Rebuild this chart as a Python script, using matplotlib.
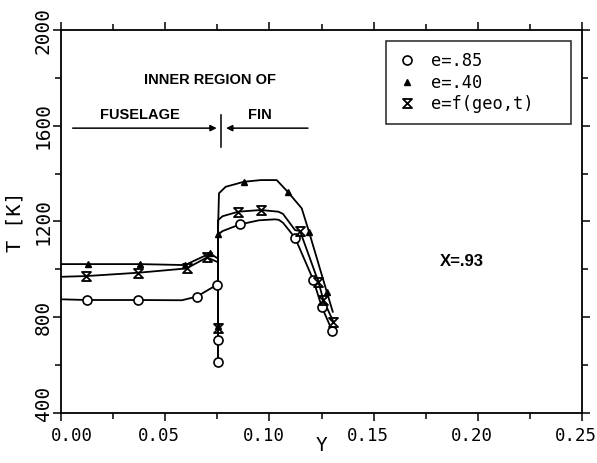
import numpy as np
import matplotlib.pyplot as plt
import matplotlib.transforms as mtransforms
from matplotlib.path import Path

# wall temperature along Y, three emissivity cases
y_85 = [0.0, 0.0123, 0.0371, 0.058, 0.0651, 0.0747, 0.0753, 0.0753, 0.0753, 0.0753,
        0.0775, 0.0859, 0.095, 0.1027, 0.1045, 0.1065, 0.1123, 0.1211, 0.1251, 0.1302]
t_85 = [875, 872, 872, 871, 886, 935, 930, 705, 613, 1145,
        1160, 1188, 1205, 1209, 1207, 1195, 1132, 955, 844, 742]
mk_85 = [1, 2, 4, 5, 7, 8, 11, 16, 17, 18, 19]

y_40 = [0.0, 0.0131, 0.0379, 0.0595, 0.0715, 0.0753, 0.0753, 0.0753, 0.0758, 0.079,
        0.0878, 0.0958, 0.1035, 0.109, 0.1155, 0.119, 0.1275, 0.1304]
t_40 = [1022, 1022, 1022, 1018, 1067, 1045, 765, 1148, 1318, 1345,
        1366, 1373, 1373, 1322, 1255, 1157, 907, 823]
mk_40 = [1, 2, 3, 4, 6, 7, 10, 13, 15, 16]

y_f = [0.0, 0.012, 0.0371, 0.0603, 0.07, 0.0753, 0.0753, 0.0753, 0.0775, 0.0851,
       0.0958, 0.1043, 0.1065, 0.1123, 0.1147, 0.1235, 0.1259, 0.1307]
t_f = [969, 972, 986, 1004, 1050, 1030, 754, 1205, 1222, 1241,
       1248, 1241, 1232, 1164, 1160, 948, 872, 781]
mk_f = [1, 2, 3, 4, 6, 9, 10, 14, 15, 16, 17]

xticks = [0.00, 0.05, 0.10, 0.15, 0.20, 0.25]
yticks = [400, 800, 1200, 1600, 2000]

# region annotation
y_wall = 0.0766
t_arrow = 1590

mono = 'DejaVu Sans Mono'
sans = 'Liberation Sans'

# hourglass marker (x with bars)
hg = Path([(-1, 1), (1, 1), (-1, -1), (1, -1), (-1, 1)],
          [Path.MOVETO, Path.LINETO, Path.LINETO, Path.LINETO, Path.CLOSEPOLY])

fig = plt.figure(figsize=(5.97, 4.63), dpi=100)
ax = fig.add_axes([0.1022, 0.108, 0.8727, 0.8272])

for yy, tt in [(y_85, t_85), (y_40, t_40), (y_f, t_f)]:
    ax.plot(yy, tt, color='k', lw=1.3, zorder=2)

y_85 = np.array(y_85); t_85 = np.array(t_85)
y_40 = np.array(y_40); t_40 = np.array(t_40)
y_f = np.array(y_f); t_f = np.array(t_f)

ax.plot(y_85[mk_85], t_85[mk_85], ls='none', marker='o', ms=6.5, mfc='white',
        mec='k', mew=1.2, label='e=.85', zorder=3)
ax.plot(y_40[mk_40], t_40[mk_40], ls='none', marker='^', ms=5, mfc='k',
        mec='k', label='e=.40', zorder=3)
ax.plot(y_f[mk_f], t_f[mk_f], ls='none', marker=hg, ms=6.5, mfc='none',
        mec='k', mew=1.3, label='e=f(geo,t)', zorder=3)

ax.set_xlim(0, 0.25)
ax.set_ylim(400, 2000)
ax.set_xticks(xticks)
ax.set_xticklabels(['%.2f' % v for v in xticks], fontfamily=mono, fontsize=12.5)
ax.set_xticks(np.arange(0, 0.2501, 0.025), minor=True)
ax.set_yticks(yticks)
ax.set_yticklabels([str(v) for v in yticks], fontfamily=mono, fontsize=14,
                   rotation=90, va='center')
ax.set_yticks(np.arange(400, 2001, 200), minor=True)
ax.tick_params(which='both', direction='out', top=True, right=True, width=1.1)
ax.tick_params(which='major', length=6)
ax.tick_params(which='minor', length=4)
ax.tick_params(axis='x', pad=4)
ax.tick_params(axis='y', pad=0)
for s in ax.spines.values():
    s.set_linewidth(1.3)

# nudge tick labels clear of each other at the corner
for i, lab in enumerate(ax.get_xticklabels()):
    dx = 11 if i == 0 else -6
    lab.set_transform(lab.get_transform() +
                      mtransforms.ScaledTranslation(dx / 100, 0, fig.dpi_scale_trans))
ylab0 = ax.get_yticklabels()[0]
ylab0.set_transform(ylab0.get_transform() +
                    mtransforms.ScaledTranslation(0, 10 / 100, fig.dpi_scale_trans))

ax.set_xlabel('Y', fontfamily=mono, fontsize=14, va='center')
ax.xaxis.set_label_coords(0.5, -0.0836)
ax.set_ylabel('T [K]', fontfamily=mono, fontsize=14.5, va='center')
ax.yaxis.set_label_coords(-0.0877, 0.5)

ax.text(0.0715, 1791, 'INNER REGION OF', fontfamily=sans, fontweight='bold',
        fontsize=10.5, ha='center', va='center')
ax.text(0.038, 1645, 'FUSELAGE', fontfamily=sans, fontweight='bold',
        fontsize=10.5, ha='center', va='center')
ax.text(0.0955, 1645, 'FIN', fontfamily=sans, fontweight='bold',
        fontsize=10.5, ha='center', va='center')
ax.text(0.1923, 1032, 'X=.93', fontfamily=sans, fontweight='bold',
        fontsize=12, ha='center', va='center')

arr = dict(arrowstyle='-|>', color='k', lw=1.1, mutation_scale=9, shrinkA=0, shrinkB=0)
ax.annotate('', xy=(0.0747, t_arrow), xytext=(0.0056, t_arrow), arrowprops=arr)
ax.annotate('', xy=(0.0792, t_arrow), xytext=(0.1185, t_arrow), arrowprops=arr)
ax.plot([y_wall, y_wall], [1512, 1645], color='k', lw=1.1)

leg = ax.legend(loc='upper left', bbox_to_anchor=(0.623, 0.752, 0.355, 0.219),
                mode='expand', frameon=True, fancybox=False,
                prop={'family': mono, 'size': 12.3},
                handlelength=1.2, handletextpad=0.8, labelspacing=0.2,
                borderpad=0.65, borderaxespad=0)
leg.get_frame().set_edgecolor('k')
leg.get_frame().set_linewidth(1.2)

fig.savefig('out.png', dpi=100)
